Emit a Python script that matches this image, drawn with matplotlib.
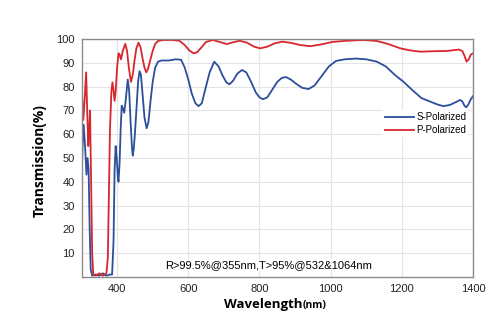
import matplotlib
matplotlib.use("Agg")
import matplotlib.pyplot as plt

# Wavelength (nm) / transmission (%)
s_wl = [300, 303, 306, 310, 314, 317, 320, 323, 326, 330, 340, 350, 360, 370, 380,
        386, 390, 393, 396, 399, 402, 404, 407, 410, 413, 416, 420, 424, 430, 434,
        438, 442, 444, 447, 450, 455, 459, 463, 467, 472, 477, 483, 488, 494, 500,
        507, 515, 525, 545, 565, 580, 590, 600, 610, 620, 629, 638, 648, 660, 673,
        685, 697, 707, 716, 726, 738, 751, 763, 775, 790, 800, 810, 822, 835, 850,
        863, 875, 888, 905, 920, 938, 955, 975, 995, 1015, 1040, 1070, 1100, 1130, 1155,
        1180, 1205, 1230, 1255, 1280, 1300, 1317, 1335, 1352, 1364, 1370, 1376, 1381, 1387, 1393,
        1400]
s_T = [40, 55, 64, 55, 43, 50, 45, 20, 3, 0.5, 1, 0.5, 1.5, 0.5, 1,
       1, 15, 45, 55, 50, 42, 40, 48, 62, 72, 71, 69, 74, 83, 78,
       65, 54, 51, 54, 60, 72, 82, 86.5, 85, 76, 67, 62.5, 65, 74, 82,
       88, 90.5, 91, 91, 91.5, 91.3, 88, 83, 77, 73, 71.8, 73, 79, 86, 90.5,
       88.5, 84.5, 81.8, 81, 82.5, 85.5, 87, 86, 82.5, 77.5, 75.5, 74.7, 75.5, 78.5, 82,
       83.7, 84, 83, 81, 79.5, 79, 80.5, 84.5, 88.5, 90.8, 91.5, 91.8, 91.5, 90.5, 88.5,
       85, 82, 78.5, 75.2, 73.7, 72.5, 71.8, 72.3, 73.5, 74.4, 73.8, 72, 71.3, 72.5, 74.5,
       76]

p_wl = [300, 302, 305, 309, 313, 316, 319, 322, 324, 327, 330, 333, 340, 350, 360,
        370, 374, 377, 380, 384, 387, 390, 393, 396, 400, 404, 407, 411, 416, 423,
        428, 433, 439, 444, 449, 454, 460, 466, 472, 477, 482, 487, 493, 500, 507,
        515, 530, 555, 575, 590, 603, 615, 625, 637, 650, 669, 688, 708, 725, 744,
        765, 785, 802, 822, 843, 863, 885, 915, 943, 975, 1005, 1046, 1092, 1130, 1160,
        1196, 1225, 1252, 1290, 1327, 1360, 1370, 1376, 1382, 1388, 1394, 1400]
p_T = [86, 75, 66, 75, 86, 70, 55, 63, 70, 40, 10, 1, 0.5, 1.5, 0.5,
       1.5, 8, 35, 62, 78, 81.8, 78.5, 74, 78, 88, 94, 93.5, 91.5, 95, 98,
       95, 88, 82, 85, 91, 96, 98.5, 96.5, 91.5, 88, 86, 87.5, 91, 95, 98,
       99.2, 99.6, 99.6, 99.3, 97.5, 95.2, 94, 94.5, 96.5, 98.8, 99.6, 98.8, 97.9, 98.6, 99.3,
       98.5, 96.8, 96.1, 96.8, 98.2, 98.9, 98.5, 97.5, 97, 97.8, 98.8, 99.3, 99.6, 99.2, 98,
       96.1, 95.2, 94.7, 94.9, 95, 95.6, 95, 93, 90.5, 91.5, 93.5, 94]

x_ticks = [400, 600, 800, 1000, 1200, 1400]
y_ticks = [10, 20, 30, 40, 50, 60, 70, 80, 90, 100]
note = "R>99.5%@355nm,T>95%@532&1064nm"

plt.rcParams['font.family'] = ['Liberation Sans', 'DejaVu Sans']

fig = plt.figure(figsize=(5, 3.34), dpi=100)
ax = fig.add_axes([0.163, 0.171, 0.783, 0.712])

ax.plot(s_wl, s_T, color='#2b4f9b', lw=1.3, label='S-Polarized')
ax.plot(p_wl, p_T, color='#d8262e', lw=1.3, label='P-Polarized')

ax.set_xlim(300, 1400)
ax.set_ylim(0, 100)
ax.set_xticks(x_ticks)
ax.set_yticks(y_ticks)
ax.tick_params(length=0, labelsize=8, pad=5, colors='#222222')
ax.grid(True, color='#e4e4e4', lw=0.8)
ax.set_axisbelow(True)
for sp in ax.spines.values():
    sp.set_color('#8a8a8a')
    sp.set_linewidth(1)

leg = ax.legend(loc='center right', bbox_to_anchor=(1.0, 0.645), fontsize=7,
                frameon=True, facecolor='white', edgecolor='none', framealpha=1,
                handlelength=3, handletextpad=0.2, labelspacing=0.3,
                borderpad=0.2, fancybox=False)

ax.text(0.214, 0.05, note, transform=ax.transAxes, fontsize=8, ha='left',
        va='center', bbox=dict(facecolor='white', edgecolor='none', pad=1))

fig.text(0.605, 0.087, 'Wavelength', fontsize=9.5, fontweight='bold',
         family='Open Sans', ha='right', va='center')
fig.text(0.605, 0.085, '(nm)', fontsize=7.5, fontweight='bold',
         family='Open Sans', ha='left', va='center')
fig.text(0.08, 0.52, 'Transmission(%)', fontsize=10, fontweight='bold',
         family='Open Sans', rotation=90, ha='center', va='center')

fig.savefig('out.png', dpi=100)
